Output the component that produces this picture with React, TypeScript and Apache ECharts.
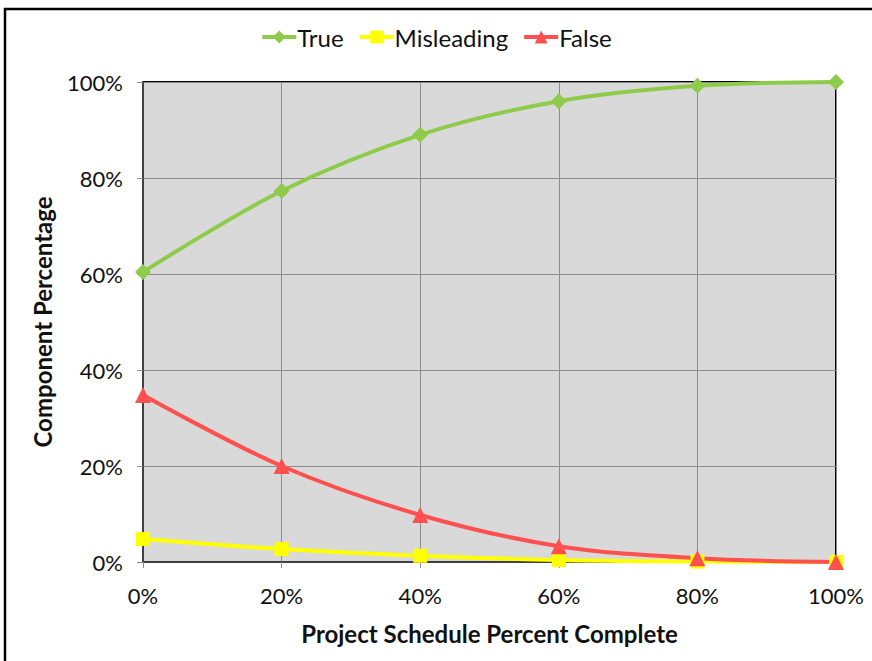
import React, { useEffect, useRef } from "react";
import * as echarts from "echarts";

const categories = ["0%", "20%", "40%", "60%", "80%", "100%"];
const trueValues = [60.4, 77.3, 89.0, 96.0, 99.2, 100];
const misleadingValues = [4.8, 2.7, 1.3, 0.4, 0.1, 0];
const falseValues = [34.8, 20.0, 9.8, 3.3, 0.8, 0];
const yTicks = [0, 20, 40, 60, 80, 100];

const FONT = "Lato, 'Open Sans', sans-serif";

export default function App() {
  const ref = useRef<HTMLDivElement>(null);
  useEffect(() => {
    if (!ref.current) return;
    const chart = echarts.init(ref.current, null, { renderer: "svg" });
    const mkSeries = (name: string, data: number[], color: string, symbol: string, size: number) => ({
      name,
      type: "line",
      data,
      smooth: 0.35,
      symbol,
      symbolSize: size,
      showSymbol: true,
      lineStyle: { color, width: 4 },
      itemStyle: { color },
      z: 3,
    });
    chart.setOption({
      animation: false,
      backgroundColor: "#ffffff",
      textStyle: { fontFamily: FONT },
      graphic: [
        {
          type: "rect",
          shape: { x: 5, y: 9, width: 900, height: 700 },
          style: { fill: "none", stroke: "#000", lineWidth: 2.5 },
          silent: true,
          z: -1,
        },
      ],
      legend: {
        top: 20,
        left: "center",
        itemGap: 14,
        itemWidth: 34,
        itemHeight: 16,
        lineStyle: { width: 4 },
        textStyle: { fontSize: 24, color: "#111", fontFamily: FONT, padding: [0, 0, 0, -4] },
        data: ["True", "Misleading", "False"],
      },
      grid: {
        left: 143,
        right: 36,
        top: 82,
        bottom: 99,
        show: true,
        backgroundColor: "#d9d9d9",
        borderColor: "#000",
        borderWidth: 2,
      },
      xAxis: {
        type: "category",
        data: categories,
        boundaryGap: false,
        name: "Project Schedule Percent Complete",
        nameLocation: "middle",
        nameGap: 59,
        nameTextStyle: { fontSize: 24, fontWeight: "bold", color: "#111", fontFamily: FONT },
        axisLine: { show: true, lineStyle: { color: "#404040", width: 2 } },
        axisTick: { show: true, alignWithLabel: true, length: 6, inside: false, lineStyle: { color: "#8c8c8c" } },
        axisLabel: { fontSize: 22, color: "#111", margin: 22, fontFamily: FONT },
        splitLine: { show: true, lineStyle: { color: "#8c8c8c", width: 1 } },
      },
      yAxis: {
        type: "value",
        min: 0,
        max: 100,
        interval: 20,
        name: "Component Percentage",
        nameLocation: "middle",
        nameGap: 89,
        nameTextStyle: { fontSize: 24, fontWeight: "bold", color: "#111", fontFamily: FONT },
        axisLine: { show: true, lineStyle: { color: "#404040", width: 2 } },
        axisTick: { show: true, length: 6, lineStyle: { color: "#8c8c8c" } },
        axisLabel: {
          fontSize: 22,
          color: "#111",
          margin: 20,
          fontFamily: FONT,
          formatter: (v: number) => (yTicks.includes(v) ? v + "%" : ""),
        },
        splitLine: { show: true, lineStyle: { color: "#8c8c8c", width: 1 } },
      },
      series: [
        mkSeries("True", trueValues, "#8fcb4a", "diamond", 16),
        mkSeries("Misleading", misleadingValues, "#ffff00", "rect", 14),
        mkSeries("False", falseValues, "#ff5050", "triangle", 16),
      ],
    });
    return () => chart.dispose();
  }, []);
  return (
    <div
      ref={ref}
      style={{ position: "absolute", left: 0, top: 0, width: 872, height: 661 }}
    />
  );
}
